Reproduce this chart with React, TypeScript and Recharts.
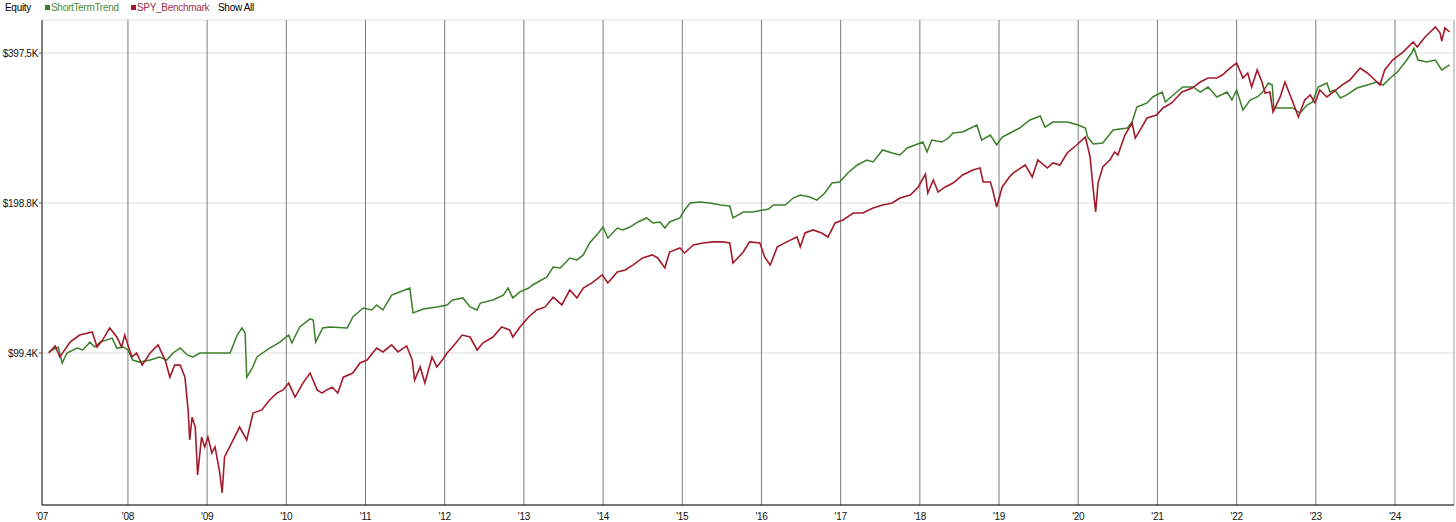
import React from "react";
import { LineChart, Line, XAxis, YAxis, CartesianGrid, ReferenceLine } from "recharts";

// equity curves, [year, equity in $K]
const spyBenchmark: [number, number][] = [
  [2007.0, 99.4], [2007.08, 102.7], [2007.14, 97.6], [2007.27, 104.5], [2007.39, 108.0], [2007.55, 109.5],
  [2007.61, 102.2], [2007.68, 105.5], [2007.77, 111.6], [2007.86, 107.0], [2007.92, 102.2], [2007.96, 108.0],
  [2008.0, 103.2], [2008.05, 97.6], [2008.11, 99.4], [2008.18, 94.0], [2008.28, 99.4], [2008.38, 103.2],
  [2008.47, 96.2], [2008.53, 88.9], [2008.59, 94.0], [2008.66, 94.0], [2008.72, 88.9], [2008.76, 76.4],
  [2008.78, 66.5], [2008.81, 73.9], [2008.85, 70.6], [2008.88, 56.6], [2008.93, 67.4], [2008.97, 64.4],
  [2009.01, 67.4], [2009.06, 62.6], [2009.1, 64.4], [2009.16, 57.1], [2009.19, 52.1], [2009.22, 61.5],
  [2009.31, 65.6], [2009.41, 70.6], [2009.5, 66.5], [2009.58, 75.3], [2009.69, 76.4], [2009.79, 80.0],
  [2009.88, 82.6], [2009.96, 83.8], [2010.03, 86.5], [2010.11, 81.1], [2010.21, 86.5], [2010.3, 90.6],
  [2010.39, 83.8], [2010.45, 82.6], [2010.51, 83.8], [2010.58, 84.9], [2010.65, 82.6], [2010.72, 88.9],
  [2010.84, 90.6], [2010.93, 94.9], [2011.02, 96.2], [2011.14, 101.7], [2011.22, 99.9], [2011.33, 103.2],
  [2011.41, 99.9], [2011.52, 102.7], [2011.59, 96.2], [2011.62, 87.7], [2011.69, 93.2], [2011.75, 86.5],
  [2011.84, 97.6], [2011.9, 93.2], [2011.97, 96.2], [2012.03, 99.4], [2012.1, 102.2], [2012.22, 108.0],
  [2012.32, 107.0], [2012.41, 100.8], [2012.48, 104.1], [2012.61, 107.0], [2012.72, 112.1], [2012.82, 110.6],
  [2012.86, 107.0], [2012.95, 112.1], [2013.06, 117.4], [2013.16, 121.3], [2013.27, 123.0], [2013.37, 128.7],
  [2013.48, 124.1], [2013.58, 133.0], [2013.67, 128.2], [2013.75, 134.2], [2013.86, 137.4], [2013.99, 142.6],
  [2014.06, 137.4], [2014.18, 144.5], [2014.28, 145.9], [2014.38, 149.3], [2014.5, 154.2], [2014.62, 156.4],
  [2014.69, 154.2], [2014.78, 147.2], [2014.84, 158.5], [2014.97, 161.5], [2015.03, 157.8], [2015.14, 163.8],
  [2015.26, 165.3], [2015.39, 166.1], [2015.51, 166.1], [2015.6, 165.3], [2015.64, 150.7], [2015.7, 154.2],
  [2015.77, 158.5], [2015.85, 166.1], [2015.98, 165.3], [2016.04, 154.9], [2016.11, 149.3], [2016.2, 162.3],
  [2016.32, 166.1], [2016.45, 169.9], [2016.49, 162.3], [2016.55, 173.1], [2016.65, 175.5], [2016.76, 173.1],
  [2016.84, 169.9], [2016.93, 181.3], [2017.03, 183.8], [2017.16, 189.8], [2017.28, 189.8], [2017.41, 194.3],
  [2017.53, 197.0], [2017.65, 198.8], [2017.75, 203.4], [2017.88, 206.3], [2017.98, 214.1], [2018.07, 227.3],
  [2018.1, 208.2], [2018.17, 221.1], [2018.23, 209.1], [2018.32, 214.1], [2018.42, 218.0], [2018.54, 226.3],
  [2018.67, 231.6], [2018.76, 233.7], [2018.8, 219.0], [2018.89, 219.0], [2018.92, 211.1], [2018.97, 195.2],
  [2019.04, 214.1], [2019.13, 224.2], [2019.18, 228.4], [2019.33, 237.0], [2019.42, 224.2], [2019.49, 242.5],
  [2019.61, 233.7], [2019.68, 239.2], [2019.77, 237.0], [2019.86, 250.5], [2019.98, 259.9], [2020.09, 269.6],
  [2020.15, 245.9], [2020.19, 211.1], [2020.22, 190.7], [2020.25, 218.0], [2020.31, 234.8], [2020.4, 242.5],
  [2020.46, 251.7], [2020.5, 248.2], [2020.59, 272.2], [2020.68, 287.7], [2020.72, 268.4], [2020.78, 278.5],
  [2020.87, 294.4], [2020.99, 298.5], [2021.07, 308.4], [2021.18, 315.6], [2021.31, 332.0], [2021.44, 338.2],
  [2021.54, 347.7], [2021.64, 354.2], [2021.75, 354.2], [2021.82, 359.2], [2021.92, 371.0], [2022.0, 379.6],
  [2022.08, 354.2], [2022.14, 362.5], [2022.19, 339.8], [2022.26, 367.6], [2022.32, 347.7], [2022.36, 330.5],
  [2022.42, 332.0], [2022.46, 302.7], [2022.55, 324.5], [2022.61, 347.7], [2022.7, 320.0], [2022.78, 295.8],
  [2022.86, 320.0], [2022.93, 327.5], [2022.99, 315.6], [2023.05, 335.1], [2023.14, 324.5], [2023.22, 332.0],
  [2023.33, 342.9], [2023.43, 350.9], [2023.56, 371.0], [2023.65, 362.5], [2023.72, 354.2], [2023.81, 342.9],
  [2023.87, 367.6], [2023.97, 384.9], [2024.1, 399.4], [2024.23, 418.3], [2024.28, 408.8], [2024.38, 428.1],
  [2024.51, 448.4], [2024.57, 436.1], [2024.59, 420.3], [2024.63, 446.3], [2024.69, 438.1],
];

const shortTermTrend: [number, number][] = [
  [2007.0, 99.9], [2007.12, 102.2], [2007.17, 94.9], [2007.23, 99.4], [2007.36, 101.7], [2007.43, 100.8],
  [2007.52, 104.5], [2007.58, 102.2], [2007.65, 104.5], [2007.8, 106.5], [2007.86, 101.7], [2007.94, 102.2],
  [2008.0, 100.8], [2008.06, 96.2], [2008.15, 95.3], [2008.28, 96.2], [2008.4, 97.6], [2008.49, 96.2],
  [2008.57, 99.4], [2008.66, 101.7], [2008.75, 98.5], [2008.82, 97.6], [2008.91, 99.4], [2009.0, 99.4],
  [2009.16, 99.4], [2009.29, 99.4], [2009.38, 108.0], [2009.44, 111.6], [2009.48, 109.0], [2009.5, 88.9],
  [2009.57, 92.7], [2009.63, 97.6], [2009.7, 99.4], [2009.79, 101.7], [2009.92, 104.5], [2010.03, 108.0],
  [2010.07, 104.1], [2010.17, 112.1], [2010.3, 116.4], [2010.34, 115.8], [2010.37, 104.5], [2010.46, 111.6],
  [2010.55, 112.1], [2010.77, 111.6], [2010.84, 117.4], [2010.97, 122.4], [2011.08, 121.3], [2011.14, 124.1],
  [2011.22, 121.3], [2011.33, 129.9], [2011.43, 131.8], [2011.56, 134.2], [2011.6, 119.6], [2011.73, 121.8],
  [2011.9, 123.0], [2012.03, 124.1], [2012.1, 127.0], [2012.23, 128.2], [2012.32, 123.0], [2012.41, 121.3],
  [2012.45, 125.2], [2012.61, 127.0], [2012.74, 129.9], [2012.8, 134.2], [2012.86, 128.2], [2012.95, 131.8],
  [2013.06, 134.2], [2013.11, 136.1], [2013.29, 141.3], [2013.37, 147.9], [2013.46, 147.2], [2013.58, 154.2],
  [2013.67, 152.8], [2013.75, 156.4], [2013.83, 165.3], [2013.94, 173.1], [2014.0, 177.9], [2014.06, 169.1],
  [2014.18, 177.1], [2014.25, 175.5], [2014.34, 177.9], [2014.44, 182.1], [2014.55, 185.5], [2014.63, 181.3],
  [2014.72, 182.1], [2014.78, 177.1], [2014.84, 182.1], [2014.97, 185.5], [2015.03, 192.5], [2015.1, 198.8],
  [2015.22, 199.7], [2015.35, 198.8], [2015.48, 197.0], [2015.6, 196.1], [2015.64, 185.5], [2015.77, 190.7],
  [2015.89, 190.7], [2016.09, 193.4], [2016.15, 197.0], [2016.3, 197.0], [2016.4, 203.4], [2016.49, 206.3],
  [2016.61, 204.3], [2016.7, 201.5], [2016.8, 208.2], [2016.89, 218.0], [2016.99, 219.0], [2017.09, 228.4],
  [2017.21, 237.0], [2017.33, 242.5], [2017.41, 240.3], [2017.53, 254.0], [2017.65, 250.5], [2017.75, 248.2],
  [2017.84, 256.3], [2017.94, 259.9], [2018.04, 263.5], [2018.09, 251.7], [2018.15, 265.9], [2018.28, 263.5],
  [2018.36, 268.4], [2018.42, 274.7], [2018.54, 276.0], [2018.72, 285.1], [2018.78, 265.9], [2018.89, 272.2],
  [2018.97, 259.9], [2019.04, 269.6], [2019.14, 274.7], [2019.26, 281.1], [2019.39, 291.7], [2019.52, 297.1],
  [2019.58, 282.4], [2019.68, 289.0], [2019.86, 289.0], [2020.0, 285.1], [2020.09, 281.1], [2020.12, 269.6],
  [2020.19, 261.1], [2020.31, 262.3], [2020.44, 278.5], [2020.62, 281.1], [2020.68, 289.0], [2020.74, 309.8],
  [2020.87, 315.6], [2020.94, 324.5], [2021.06, 332.0], [2021.1, 317.1], [2021.2, 327.5], [2021.32, 339.8],
  [2021.45, 339.8], [2021.54, 332.0], [2021.64, 339.8], [2021.75, 324.5], [2021.88, 332.0], [2021.94, 320.0],
  [2022.0, 335.1], [2022.08, 305.5], [2022.17, 320.0], [2022.26, 324.5], [2022.33, 332.0], [2022.4, 346.1],
  [2022.45, 342.9], [2022.47, 308.4], [2022.59, 308.4], [2022.71, 308.4], [2022.8, 301.3], [2022.89, 312.7],
  [2022.96, 317.1], [2023.03, 339.8], [2023.14, 346.1], [2023.18, 332.0], [2023.24, 335.1], [2023.31, 322.9],
  [2023.39, 327.5], [2023.52, 338.2], [2023.65, 342.9], [2023.77, 347.7], [2023.85, 342.9], [2023.94, 354.2],
  [2024.03, 364.2], [2024.13, 381.4], [2024.21, 397.6], [2024.24, 406.9], [2024.29, 384.9], [2024.4, 381.4],
  [2024.51, 384.9], [2024.59, 367.6], [2024.69, 376.2],
];

// first tick is the left edge of the axis, labelled '07
const yearTicks = [2006.915, 2008, 2009, 2010, 2011, 2012, 2013, 2014, 2015, 2016, 2017, 2018, 2019, 2020, 2021, 2022, 2023, 2024];
const equityTicks = [99.4, 198.8, 397.5];
const xDomain: [number, number] = [2006.915, 2024.745];
const yDomain: [number, number] = [49.24, 463.1];

const GREEN = "#3b7f2b";
const RED = "#a31a2b";
const FONT = "'Liberation Sans', Arial, sans-serif";

const spyData = spyBenchmark.map(([t, v]) => ({ t, v }));
const strategyData = shortTermTrend.map(([t, v]) => ({ t, v }));

const tickStyle = { fontSize: 10, fill: "#111", fontFamily: FONT, letterSpacing: -0.3 };

export default function App() {
  return (
    <div style={{ position: "relative", width: 1456, height: 522, background: "#fff", fontFamily: FONT }}>
      <style>{"body{margin:0}"}</style>
      <div style={{ position: "absolute", top: 2, left: 0, fontSize: 10, letterSpacing: -0.3, lineHeight: "12px", whiteSpace: "nowrap" }}>
        <span style={{ position: "absolute", left: 5, color: "#000" }}>Equity</span>
        <span style={{ position: "absolute", left: 45, top: 3, width: 5, height: 5, background: GREEN }} />
        <span style={{ position: "absolute", left: 51, color: "#4a8a3c" }}>ShortTermTrend</span>
        <span style={{ position: "absolute", left: 131, top: 3, width: 5, height: 5, background: RED }} />
        <span style={{ position: "absolute", left: 137, color: "#a0304a" }}>SPY_Benchmark</span>
        <span style={{ position: "absolute", left: 218, color: "#000" }}>Show All</span>
      </div>
      <LineChart width={1456} height={522} margin={{ top: 20, right: 2, left: 0, bottom: 0 }}>
        <CartesianGrid vertical={false} stroke="#dedede" />
        <XAxis
          type="number"
          dataKey="t"
          domain={xDomain}
          ticks={yearTicks}
          allowDataOverflow
          height={17}
          tickLine={false}
          axisLine={{ stroke: "#000" }}
          tick={tickStyle}
          tickFormatter={(v: number) => "'" + String(Math.round(v)).slice(2)}
        />
        <YAxis
          type="number"
          scale="log"
          domain={yDomain}
          ticks={equityTicks}
          allowDataOverflow
          width={42}
          tickSize={3}
          tickMargin={1}
          axisLine={{ stroke: "#000" }}
          tickLine={{ stroke: "#555" }}
          tick={tickStyle}
          tickFormatter={(v: number) => `$${v.toFixed(1)}K`}
        />
        {yearTicks.slice(1).map((yr) => (
          <ReferenceLine key={yr} x={yr} stroke="#7c7c7c" />
        ))}
        <ReferenceLine x={xDomain[1]} stroke="#9a9a9a" />
        <Line
          data={strategyData}
          dataKey="v"
          type="linear"
          stroke={GREEN}
          strokeWidth={1.5}
          dot={false}
          activeDot={false}
          isAnimationActive={false}
        />
        <Line
          data={spyData}
          dataKey="v"
          type="linear"
          stroke={RED}
          strokeWidth={1.6}
          dot={false}
          activeDot={false}
          isAnimationActive={false}
        />
      </LineChart>
    </div>
  );
}
